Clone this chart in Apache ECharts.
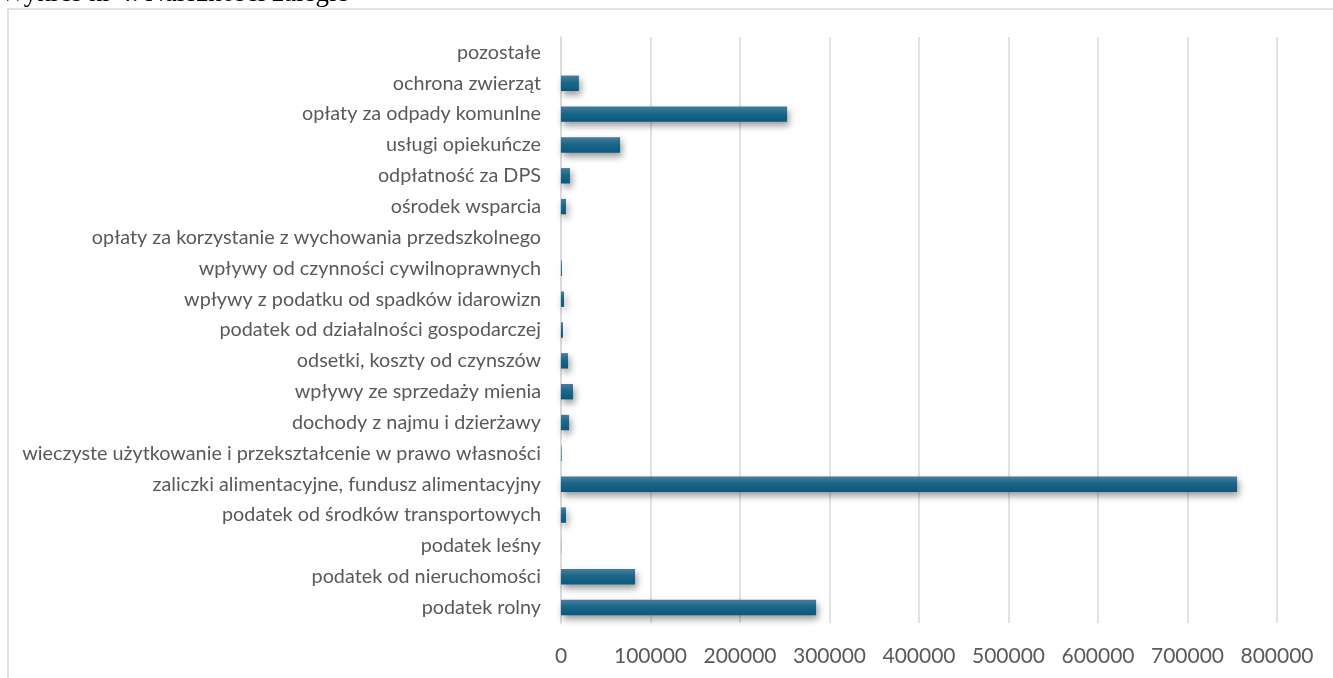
<!DOCTYPE html>
<html><head><meta charset="utf-8">
<script src="https://cdn.jsdelivr.net/npm/echarts@6/dist/echarts.min.js"></script>
<style>html,body{margin:0;padding:0;background:#fff}#c{width:1333px;height:678px}</style>
</head><body><div id="c"></div>
<script>
const titleText = 'Wykres nr 4. Należności zaległe';
const categories = [
  'podatek rolny',
  'podatek od nieruchomości',
  'podatek leśny',
  'podatek od środków transportowych',
  'zaliczki alimentacyjne, fundusz alimentacyjny',
  'wieczyste użytkowanie i przekształcenie w prawo własności',
  'dochody z najmu i dzierżawy',
  'wpływy ze sprzedaży mienia',
  'odsetki, koszty od czynszów',
  'podatek od działalności gospodarczej',
  'wpływy z podatku od spadków idarowizn',
  'wpływy od czynności cywilnoprawnych',
  'opłaty za korzystanie z wychowania przedszkolnego',
  'ośrodek wsparcia',
  'odpłatność za DPS',
  'usługi opiekuńcze',
  'opłaty za odpady komunlne',
  'ochrona zwierząt',
  'pozostałe'
];
const values = [285000, 82700, 200, 5600, 755400, 600, 9000, 13400, 7900, 2200, 3400, 1000, 0, 5600, 10000, 66000, 252600, 20000, 0];
const xTicks = [0, 100000, 200000, 300000, 400000, 500000, 600000, 700000, 800000];

const chart = echarts.init(document.getElementById('c'), null, {renderer: 'canvas'});
chart.setOption({
  animation: false,
  backgroundColor: '#fff',
  graphic: [
    {type: 'rect', shape: {x: 8, y: 9, width: 1400, height: 700}, style: {fill: 'none', stroke: '#d9d9d9', lineWidth: 1.5}, z: -1},
    {type: 'text', left: 0, top: -20, style: {text: titleText, font: '27px "Liberation Serif", serif', fill: '#000'}}
  ],
  grid: {left: 561, right: 56, top: 37, bottom: 55, containLabel: false},
  xAxis: {
    type: 'value', min: xTicks[0], max: xTicks[xTicks.length - 1], interval: 100000,
    axisLine: {show: false}, axisTick: {show: false},
    splitLine: {show: true, lineStyle: {color: '#d9d9d9', width: 1.5}},
    axisLabel: {color: '#595959', fontSize: 21, fontFamily: 'Lato, sans-serif', margin: 23,
      formatter: v => String(v)}
  },
  yAxis: {
    type: 'category', data: categories,
    axisLine: {show: true, lineStyle: {color: '#d9d9d9', width: 1.5}},
    axisTick: {show: false},
    axisLabel: {color: '#595959', fontSize: 19.8, fontFamily: 'Lato, sans-serif', margin: 20}
  },
  series: [{
    type: 'bar', data: values, barCategoryGap: '50%',
    itemStyle: {
      color: new echarts.graphic.LinearGradient(0, 0, 0, 1, [
        {offset: 0, color: '#4a7c9b'}, {offset: 0.45, color: '#1a6789'}, {offset: 1, color: '#0a587d'}
      ]),
      shadowColor: 'rgba(0,0,0,0.4)', shadowBlur: 7, shadowOffsetX: 2, shadowOffsetY: 4
    }
  }]
});
</script></body></html>
